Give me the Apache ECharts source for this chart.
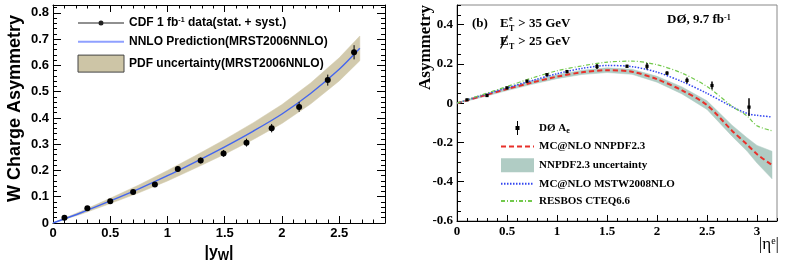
<!DOCTYPE html>
<html><head><meta charset="utf-8">
<script src="https://cdn.jsdelivr.net/npm/echarts@6/dist/echarts.min.js"></script>
<style>html,body{margin:0;padding:0;background:#fff}#c{width:789px;height:266px}</style>
</head><body><div id="c"></div>
<script>
// ---------- Left panel: CDF W charge asymmetry ----------
const cdfX   = [0.10, 0.30, 0.50, 0.70, 0.89, 1.09, 1.29, 1.49, 1.69, 1.91, 2.15, 2.40, 2.63];
const cdfY   = [0.020, 0.056, 0.083, 0.118, 0.147, 0.206, 0.238, 0.265, 0.306, 0.361, 0.442, 0.544, 0.650];
const cdfErr = [0.006, 0.006, 0.007, 0.008, 0.009, 0.010, 0.011, 0.013, 0.015, 0.016, 0.019, 0.021, 0.027];
const nnloX  = [0, 0.25, 0.5, 0.75, 1.0, 1.25, 1.5, 1.75, 2.0, 2.25, 2.5, 2.68];
const nnloY  = [0, 0.040, 0.084, 0.130, 0.180, 0.234, 0.290, 0.350, 0.415, 0.493, 0.585, 0.665];
const nnloHw = [0, 0.006, 0.010, 0.015, 0.020, 0.024, 0.028, 0.032, 0.036, 0.040, 0.044, 0.047];
const leftXTicks = {min: 0, max: 2.9, major: 0.5, minor: 0.1};
const leftYTicks = {min: 0, max: 0.83, major: 0.1, minor: 0.02};

// ---------- Right panel: D0 electron charge asymmetry ----------
const d0X   = [0.10, 0.30, 0.50, 0.70, 0.90, 1.10, 1.40, 1.70, 1.90, 2.10, 2.30, 2.55, 2.92];
const d0Y   = [0.017, 0.039, 0.078, 0.112, 0.145, 0.161, 0.187, 0.188, 0.188, 0.153, 0.116, 0.090, -0.020];
const d0Err = [0.005, 0.005, 0.006, 0.006, 0.007, 0.008, 0.013, 0.008, 0.017, 0.010, 0.015, 0.020, 0.045];
const etaX     = [0, 0.25, 0.5, 0.75, 1.0, 1.25, 1.5, 1.75, 2.0, 2.25, 2.5, 2.75, 2.9, 3.0, 3.15];
const nnpdfY   = [0, 0.036, 0.072, 0.105, 0.135, 0.157, 0.168, 0.160, 0.122, 0.065, -0.010, -0.140, -0.210, -0.260, -0.315];
const nnpdfHw  = [0.002, 0.006, 0.008, 0.009, 0.010, 0.011, 0.012, 0.013, 0.015, 0.018, 0.022, 0.028, 0.034, 0.045, 0.070];
const mstwY    = [0, 0.040, 0.078, 0.115, 0.150, 0.177, 0.192, 0.186, 0.158, 0.110, 0.050, -0.018, -0.052, -0.062, -0.070];
const resbosY  = [0, 0.043, 0.085, 0.128, 0.165, 0.190, 0.209, 0.214, 0.196, 0.153, 0.085, -0.015, -0.065, -0.115, -0.140];
const rightXTicks = {min: 0, max: 3.2, major: 0.5, minor: 0.1};
const rightYTicks = {min: -0.6, max: 0.5, major: 0.2, minor: 0.05};

const SANS = '"Liberation Sans", Arial, sans-serif';
const SERIF = '"Liberation Serif", "Times New Roman", serif';

function axis(grid, pos, t, isMinor, showLabel, font, tickLen, extra) {
  const a = {
    gridIndex: grid, type: 'value', position: pos,
    min: t.min, max: t.max, interval: isMinor ? t.minor : t.major,
    axisLine: {show: !isMinor, onZero: false, lineStyle: {color: '#000', width: 1}},
    axisTick: {show: true, inside: true, length: tickLen, lineStyle: {color: '#000', width: 1}},
    splitLine: {show: false},
    axisLabel: {show: showLabel && !isMinor, margin: 4, showMaxLabel: false,
      fontFamily: font, fontWeight: 'bold', fontSize: 13, color: '#000'},
    silent: true
  };
  return Object.assign(a, extra || {});
}

const errBar = (r, isCircle, lw) => function (params, api) {
  const x = api.value(0), y = api.value(1), e = api.value(2);
  const c = api.coord([x, y]), t = api.coord([x, y + e]), b = api.coord([x, y - e]);
  const mark = isCircle
    ? {type: 'circle', shape: {cx: c[0], cy: c[1], r: r}, style: {fill: '#000'}}
    : {type: 'rect', shape: {x: c[0] - r, y: c[1] - r, width: 2 * r, height: 2 * r}, style: {fill: '#000'}};
  return {type: 'group', children: [
    {type: 'line', shape: {x1: c[0], y1: t[1], x2: c[0], y2: b[1]}, style: {stroke: '#000', lineWidth: lw}},
    mark
  ]};
};

// band drawn as one polygon from the band arrays through the axis scales
const bandRender = (xs, ys, hws, color) => function (params, api) {
  if (params.dataIndex !== 0) return null;
  const up = xs.map((x, i) => api.coord([x, ys[i] + hws[i]]));
  const lo = xs.map((x, i) => api.coord([x, ys[i] - hws[i]])).reverse();
  return {type: 'polygon', shape: {points: up.concat(lo)}, style: {fill: color, stroke: color, lineWidth: 0.5}};
};

const pairs = (xs, ys) => xs.map((x, i) => [x, ys[i]]);
const triples = (xs, ys, es) => xs.map((x, i) => [x, ys[i], es[i]]);

const N_CDF = 'CDF 1 fb-1 data(stat. + syst.)';
const N_NNLO = 'NNLO Prediction(MRST2006NNLO)';
const N_PDF = 'PDF uncertainty(MRST2006NNLO)';
const N_D0 = 'DØ Ae';
const N_NNPDF = 'MC@NLO NNPDF2.3';
const N_NNBAND = 'NNPDF2.3 uncertainty';
const N_MSTW = 'MC@NLO MSTW2008NLO';
const N_RES = 'RESBOS CTEQ6.6';

const txt = (x, y, text, font) => ({type: 'text', x: x, y: y, silent: true,
  style: {text: text, font: font, fill: '#000', verticalAlign: 'middle', textVerticalAlign: 'middle'}});

const option = {
  animation: false,
  backgroundColor: '#fff',
  grid: [
    {left: 53, top: 5, width: 332, height: 218, show: false, outerBoundsMode: 'none', containLabel: false},
    {left: 457, top: 5, width: 320, height: 216, show: true, borderColor: '#888', borderWidth: 1,
     backgroundColor: 'rgba(0,0,0,0)', outerBoundsMode: 'none', containLabel: false}
  ],
  xAxis: [
    axis(0, 'bottom', leftXTicks, false, true, SANS, 7, {
      name: '{a||y}{s|W}{a||}', nameLocation: 'middle', nameGap: 19,
      nameTextStyle: {rich: {
        a: {fontFamily: SANS, fontWeight: 'bold', fontSize: 16, color: '#000'},
        s: {fontFamily: SANS, fontWeight: 'bold', fontSize: 12, color: '#000', verticalAlign: 'bottom', padding: [8, 0, 0, 0]}
      }}}),
    axis(0, 'bottom', leftXTicks, true, false, SANS, 3.5),
    axis(0, 'top', leftXTicks, false, false, SANS, 7),
    axis(0, 'top', leftXTicks, true, false, SANS, 3.5),
    axis(1, 'bottom', rightXTicks, false, true, SERIF, 6),
    axis(1, 'bottom', rightXTicks, true, false, SERIF, 3)
  ],
  yAxis: [
    axis(0, 'left', leftYTicks, false, true, SANS, 8),
    axis(0, 'left', leftYTicks, true, false, SANS, 4),
    axis(0, 'right', leftYTicks, false, false, SANS, 8),
    axis(0, 'right', leftYTicks, true, false, SANS, 4),
    axis(1, 'left', rightYTicks, false, true, SERIF, 7),
    axis(1, 'left', rightYTicks, true, false, SERIF, 4)
  ],
  legend: [
    {
      orient: 'vertical', left: 72, top: 12, itemWidth: 46, itemHeight: 17, itemGap: 6,
      selectedMode: false, symbolKeepAspect: true,
      textStyle: {fontFamily: SANS, fontWeight: 'bold', fontSize: 12, color: '#000',
        rich: {
          t: {fontFamily: SANS, fontWeight: 'bold', fontSize: 12, color: '#000'},
          sup: {fontFamily: SANS, fontWeight: 'bold', fontSize: 7, color: '#000', verticalAlign: 'top'}
        }},
      formatter: function (n) {
        if (n === N_CDF) return '{t|CDF 1 fb}{sup|-1}{t| data(stat. + syst.)}';
        return '{t|' + n + '}';
      },
      data: [
        {name: N_CDF, icon: 'path://M0,2h20.5v1h-20.5z M25.5,2h20.5v1h-20.5z M20.5,2.5a2.5,2.5 0 1,0 5,0a2.5,2.5 0 1,0 -5,0z',
         itemStyle: {color: '#222', borderWidth: 0}},
        {name: N_NNLO, itemStyle: {opacity: 0}, lineStyle: {color: '#8fa0ff', width: 2, opacity: 1}},
        {name: N_PDF, icon: 'rect', itemStyle: {color: '#cdc5a6', borderColor: '#444', borderWidth: 1, opacity: 1}}
      ]
    },
    {
      orient: 'vertical', left: 495, top: 116, itemWidth: 33, itemHeight: 14, itemGap: 6,
      selectedMode: false, symbolKeepAspect: true,
      textStyle: {fontFamily: SERIF, fontWeight: 'bold', fontSize: 11, color: '#000',
        rich: {
          t: {fontFamily: SERIF, fontWeight: 'bold', fontSize: 11, color: '#000', lineHeight: 14},
          sub: {fontFamily: SERIF, fontWeight: 'bold', fontSize: 8, color: '#000', lineHeight: 8, padding: [6, 0, 0, 0]}
        }},
      formatter: function (n) {
        if (n === N_D0) return '{t|DØ A}{sub|e}';
        return '{t|' + n + '}';
      },
      data: [
        {name: N_D0, icon: 'path://M1.5,0h1v5h1.5v4h-1.5v5h-1v-5h-1.5v-4h1.5z', itemStyle: {color: '#000', borderWidth: 0}},
        {name: N_NNPDF, itemStyle: {opacity: 0}},
        {name: N_NNBAND, icon: 'rect', itemStyle: {color: '#b0ccc4', borderWidth: 0, opacity: 1}},
        {name: N_MSTW, itemStyle: {opacity: 0}},
        {name: N_RES, itemStyle: {opacity: 0}}
      ]
    }
  ],
  series: [
    {name: N_PDF, type: 'custom', xAxisIndex: 0, yAxisIndex: 0, z: 1, silent: true,
     itemStyle: {color: '#d2caad'},
     renderItem: bandRender(nnloX, nnloY, nnloHw, '#d2caad'), data: triples(nnloX, nnloY, nnloHw)},
    {name: N_NNLO, type: 'line', xAxisIndex: 0, yAxisIndex: 0, smooth: 0.3, symbol: 'none', z: 2,
     data: pairs(nnloX, nnloY), lineStyle: {color: '#4466ee', width: 1.4}, itemStyle: {color: '#4466ee'}},
    {name: N_CDF, type: 'custom', xAxisIndex: 0, yAxisIndex: 0, z: 3, itemStyle: {color: '#000'},
     renderItem: errBar(3, true, 1), data: triples(cdfX, cdfY, cdfErr)},

    {name: N_NNBAND, type: 'custom', xAxisIndex: 4, yAxisIndex: 4, z: 1, silent: true,
     itemStyle: {color: '#b0ccc4'},
     renderItem: bandRender(etaX, nnpdfY, nnpdfHw, '#b0ccc4'), data: triples(etaX, nnpdfY, nnpdfHw)},
    {name: N_NNPDF, type: 'line', xAxisIndex: 4, yAxisIndex: 4, smooth: 0.3, symbol: 'none', z: 2,
     data: pairs(etaX, nnpdfY), itemStyle: {color: '#e8302a'},
     lineStyle: {color: '#e8302a', width: 2, type: [5, 3]}},
    {name: N_MSTW, type: 'line', xAxisIndex: 4, yAxisIndex: 4, smooth: 0.3, symbol: 'none', z: 2,
     data: pairs(etaX, mstwY), itemStyle: {color: '#3346f0'},
     lineStyle: {color: '#3346f0', width: 1.5, type: [1.5, 1.5]}},
    {name: N_RES, type: 'line', xAxisIndex: 4, yAxisIndex: 4, smooth: 0.3, symbol: 'none', z: 2,
     data: pairs(etaX, resbosY), itemStyle: {color: '#72c94c'},
     lineStyle: {color: '#72c94c', width: 1.2, type: [4, 2, 1, 2]}},
    {name: N_D0, type: 'custom', xAxisIndex: 4, yAxisIndex: 4, z: 3, itemStyle: {color: '#000'},
     renderItem: errBar(1.6, false, 1.5), data: triples(d0X, d0Y, d0Err)}
  ],
  graphic: [
    {type: 'text', x: 15, y: 15, rotation: Math.PI / 2, silent: true,
     style: {text: 'W Charge Asymmetry', font: 'bold 18px ' + SANS, fill: '#000',
             align: 'right', verticalAlign: 'middle', textAlign: 'right', textVerticalAlign: 'middle'}},
    {type: 'text', x: 426, y: 5, rotation: Math.PI / 2, silent: true,
     style: {text: 'Asymmetry', font: 'bold 17px ' + SERIF, fill: '#000',
             align: 'right', verticalAlign: 'middle', textAlign: 'right', textVerticalAlign: 'middle'}},
    {type: 'text', x: 779, y: 245, silent: true,
     style: {text: '{a||η}{s|e}{a||}', fill: '#000', align: 'right', verticalAlign: 'middle',
             textAlign: 'right', textVerticalAlign: 'middle',
             rich: {a: {fontFamily: SERIF, fontSize: 17, fill: '#000'},
                    s: {fontFamily: SERIF, fontSize: 10, fill: '#000', verticalAlign: 'top'}}}},
    txt(472, 24, '(b)', 'bold 13px ' + SERIF),
    txt(500, 24, 'E', 'bold 13px ' + SERIF),
    txt(509, 19, 'e', 'bold 8px ' + SERIF),
    txt(509, 28.5, 'T', 'bold 8px ' + SERIF),
    txt(515, 24, ' > 35 GeV', 'bold 13px ' + SERIF),
    txt(500, 42, 'E', 'bold 13px ' + SERIF),
    {type: 'line', silent: true, shape: {x1: 500.5, y1: 48.5, x2: 507.5, y2: 35.5},
     style: {stroke: '#000', lineWidth: 1.2}},
    txt(509, 46.5, 'T', 'bold 8px ' + SERIF),
    txt(515, 42, ' > 25 GeV', 'bold 13px ' + SERIF),
    {type: 'text', x: 667, y: 20, silent: true,
     style: {text: '{a|DØ, 9.7 fb}{s|-1}', fill: '#000', verticalAlign: 'middle', textVerticalAlign: 'middle',
             rich: {a: {fontFamily: SERIF, fontWeight: 'bold', fontSize: 13, fill: '#000'},
                    s: {fontFamily: SERIF, fontWeight: 'bold', fontSize: 8, fill: '#000', verticalAlign: 'top'}}}}
  ]
};

const chart = echarts.init(document.getElementById('c'), null, {renderer: 'canvas', width: 789, height: 266});
chart.setOption(option);
</script>
</body></html>
